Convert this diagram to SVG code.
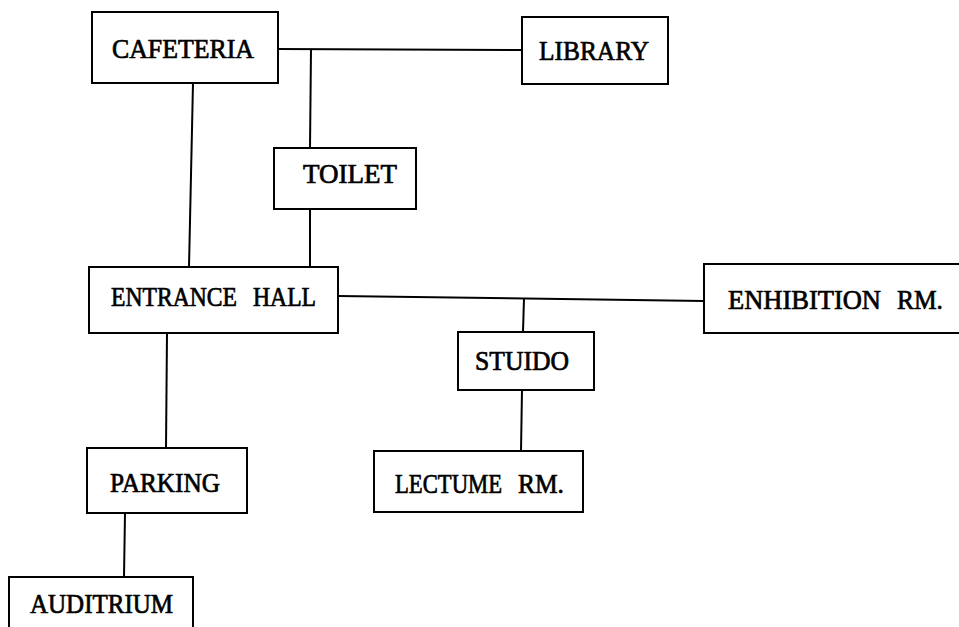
<svg xmlns="http://www.w3.org/2000/svg" width="959" height="627" viewBox="0 0 959 627">
<style>
.box{fill:#fff;stroke:#000;stroke-width:2}
.lbl{font-family:"Liberation Serif","Times New Roman",serif;font-size:27px;fill:#000;stroke:#000;stroke-width:0.7}
.con{stroke:#000;stroke-width:2;fill:none}
</style>
<rect width="959" height="627" fill="#fff"/>
<g id="connectors">
<line class="con" x1="278" y1="49" x2="522" y2="50"/>
<line class="con" x1="311" y1="49" x2="310" y2="148"/>
<line class="con" x1="310" y1="209" x2="310" y2="267"/>
<line class="con" x1="193" y1="83" x2="189" y2="267"/>
<line class="con" x1="338" y1="296" x2="704" y2="301"/>
<line class="con" x1="524" y1="298" x2="523" y2="332"/>
<line class="con" x1="522" y1="390" x2="521" y2="451"/>
<line class="con" x1="167" y1="333" x2="166" y2="448"/>
<line class="con" x1="125" y1="513" x2="124" y2="577"/>
</g>
<g id="cafeteria"><rect class="box" x="92" y="12" width="186" height="71"/><text class="lbl" x="112" y="58" textLength="142" lengthAdjust="spacingAndGlyphs">CAFETERIA</text></g>
<g id="library"><rect class="box" x="522" y="17" width="146" height="67"/><text class="lbl" x="539" y="60" textLength="110" lengthAdjust="spacingAndGlyphs">LIBRARY</text></g>
<g id="toilet"><rect class="box" x="274" y="148" width="142" height="61"/><text class="lbl" x="303" y="183" textLength="94" lengthAdjust="spacingAndGlyphs">TOILET</text></g>
<g id="entrance-hall"><rect class="box" x="89" y="267" width="249" height="66"/><text class="lbl" y="306"><tspan x="111" textLength="126" lengthAdjust="spacingAndGlyphs">ENTRANCE</tspan> <tspan x="253" textLength="63" lengthAdjust="spacingAndGlyphs">HALL</tspan></text></g>
<g id="exhibition-rm"><rect class="box" x="704" y="264" width="262" height="69"/><text class="lbl" y="309"><tspan x="728" textLength="153" lengthAdjust="spacingAndGlyphs">ENHIBITION</tspan> <tspan x="897" textLength="46" lengthAdjust="spacingAndGlyphs">RM.</tspan></text></g>
<g id="studio"><rect class="box" x="458" y="332" width="136" height="58"/><text class="lbl" x="475" y="370" textLength="94" lengthAdjust="spacingAndGlyphs">STUIDO</text></g>
<g id="lecture-rm"><rect class="box" x="374" y="451" width="209" height="61"/><text class="lbl" y="493"><tspan x="395" textLength="107" lengthAdjust="spacingAndGlyphs">LECTUME</tspan> <tspan x="518" textLength="46" lengthAdjust="spacingAndGlyphs">RM.</tspan></text></g>
<g id="parking"><rect class="box" x="87" y="448" width="160" height="65"/><text class="lbl" x="110" y="492" textLength="110" lengthAdjust="spacingAndGlyphs">PARKING</text></g>
<g id="auditrium"><rect class="box" x="9" y="577" width="184" height="70"/><text class="lbl" x="30" y="613" textLength="143" lengthAdjust="spacingAndGlyphs">AUDITRIUM</text></g>
</svg>
